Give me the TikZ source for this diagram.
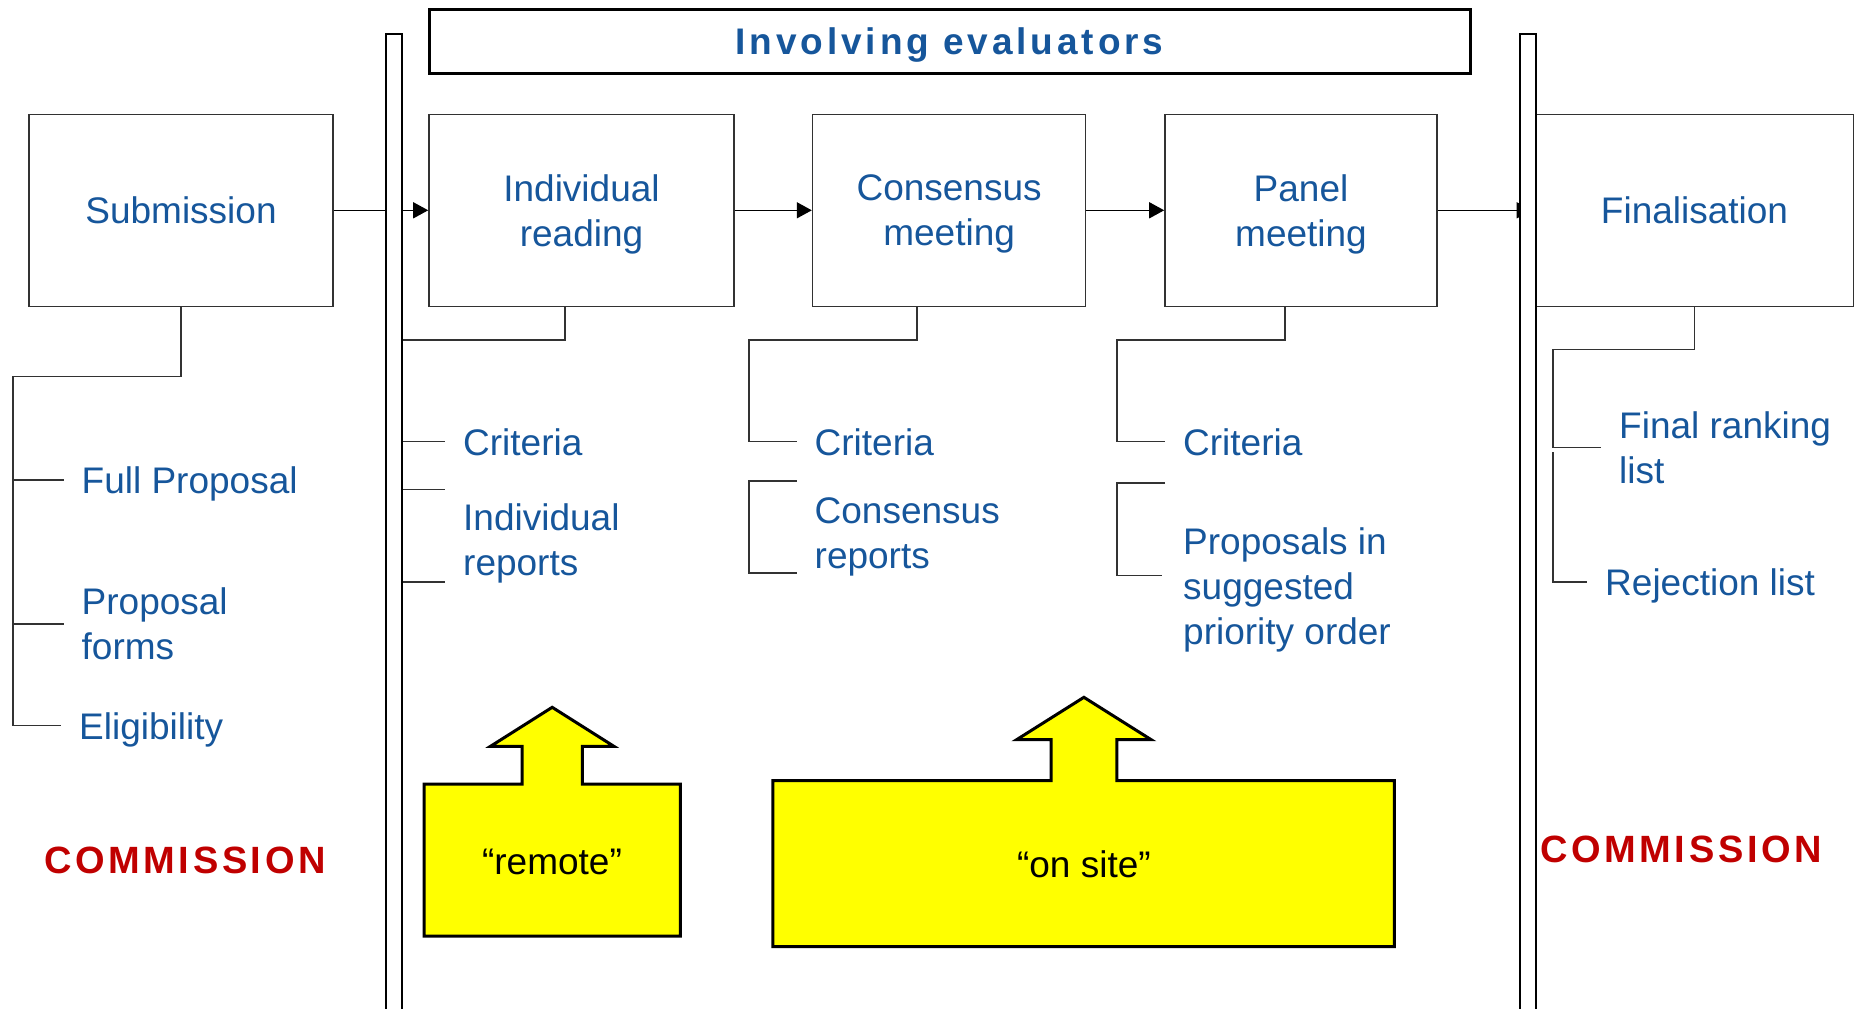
\documentclass[tikz,border=0pt]{standalone}
\usepackage{fontspec}
\setmainfont{Liberation Sans}
\usepackage{xcolor}
\usetikzlibrary{arrows.meta,positioning}
\definecolor{evalblue}{RGB}{22,86,155}
\definecolor{commred}{RGB}{192,0,0}
\definecolor{edgegray}{RGB}{50,50,50}
\definecolor{notegold}{RGB}{255,255,0}

\begin{document}
\begin{tikzpicture}[x=1pt, y=-1pt,
  stage node/.style={rectangle, draw=edgegray, line width=1.6pt, align=center, text=evalblue, font=\fontsize{37}{45}\selectfont, minimum height=192pt, text depth=0pt},
  item node/.style={anchor=west, align=left, text=evalblue, font=\fontsize{37}{45}\selectfont, inner xsep=18pt, inner ysep=0pt, text depth=0pt},
  comm node/.style={text=commred, font=\fontsize{38}{45}\selectfont\bfseries\addfontfeature{LetterSpace=9.5}},
  link/.style={draw=edgegray, line width=1.5pt},
  flow/.style={draw=black, line width=1.5pt, -{Triangle[length=15pt,width=16pt]}},
  rail/.style={draw=black, line width=2pt, fill=white},
  note shape/.style={draw=black, line width=3pt, fill=notegold, line join=miter},
  note node/.style={text=black, font=\fontsize{37}{45}\selectfont}]
\useasboundingbox (0,0) rectangle (1861,1009);

% title
\node[draw=black, line width=3pt, minimum width=1041pt, minimum height=64.7pt, text depth=0pt, text=evalblue, font=\fontsize{37}{45}\selectfont\bfseries\addfontfeature{LetterSpace=10.5}] (title) at (949.5,41.4) {Involving evaluators};

% stages
\node[stage node, minimum width=304pt] (sub) at (181,210.3) {Submission};
\node[stage node, minimum width=305pt] (ir) at (581.5,210.3) {Individual\\reading};
\node[stage node, minimum width=273pt] (cm) at (949.1,210.3) {Consensus\\meeting};
\node[stage node, minimum width=272pt] (pm) at (1301,210.3) {Panel\\meeting};
\node[stage node, minimum width=318pt] (fin) at (1694.5,210.3) {Finalisation};

% items
\node[item node] (fullprop) at (63.5,480) {Full Proposal};
\node[item node] (propforms) at (63.5,624) {Proposal\\forms};
\node[item node] (elig) at (61,725.7) {Eligibility};
\node[item node] (ircrit) at (445,441.7) {Criteria};
\node[item node] (irrep) at (445,540) {Individual\\reports};
\node[item node] (cmcrit) at (796.5,441.7) {Criteria};
\node[item node] (cmrep) at (796.5,533) {Consensus\\reports};
\node[item node] (pmcrit) at (1165,441.7) {Criteria};
\node[item node] (pmprop) at (1165,585.7) {Proposals in\\suggested\\priority order};
\node[item node] (finrank) at (1601,447.3) {Final ranking\\list};
\node[item node] (finrej) at (1587,582) {Rejection list};

\coordinate (subcorner) at (13,376.7);
\coordinate (irtop) at (401.5,340);
\coordinate (irrepa) at (445,489.7);
\coordinate (irrepb) at (445,582);
\coordinate (cmcorner) at (749,340);
\coordinate (cmrepa) at (796.5,481);
\coordinate (cmrepb) at (796.5,573);
\coordinate (pmcorner) at (1117,340);
\coordinate (pmpropa) at (1165,483);
\coordinate (pmpropb) at (1162,575.3);
\coordinate (fincorner) at (1553,349.7);
\coordinate (finlow) at (1553,452);

% tree lines
\draw[link] (sub.south) |- (subcorner) |- (fullprop.west);
\draw[link] (fullprop.west -| subcorner) |- (elig.west);
\draw[link] (propforms.west -| subcorner) -- (propforms.west);
\draw[link] ([xshift=-16.5pt]ir.south) |- (irtop);
\draw[link] (ircrit.west -| irtop) -- (ircrit.west);
\draw[link] (irrepa -| irtop) -- (irrepa);
\draw[link] (irrepb -| irtop) -- (irrepb);
\draw[link] ([xshift=-32pt]cm.south) |- (cmcorner) |- (cmcrit.west);
\draw[link] (cmrepa) -- (cmrepa -| cmcorner) -- (cmrepb -| cmcorner) -- (cmrepb);
\draw[link] ([xshift=-16pt]pm.south) |- (pmcorner) |- (pmcrit.west);
\draw[link] (pmpropa) -- (pmpropa -| pmcorner) -- (pmpropb -| pmcorner) -- (pmpropb);
\draw[link] (fin.south) |- (fincorner) |- (finrank.west);
\draw[link] (finlow) |- (finrej.west);

% flow
\path[flow] (sub) edge (ir)
  (ir) edge (cm)
  (cm) edge (pm)
  (pm) edge[shorten >=3pt] (fin);

% rails
\draw[rail] (385.5,1012) |- (401.5,34.3) -- (401.5,1012);
\draw[rail] (1519.7,1012) |- (1535.7,34.3) -- (1535.7,1012);

% yellow arrows
\draw[note shape] (424,936) -- (424,784) -- (522,784) -- (522,746.3) -- (490.5,746.3) -- (552.2,707.3) -- (613.9,746.3) -- (582.4,746.3) -- (582.4,784) -- (680.3,784) -- (680.3,936) -- cycle;
\node[note node] (remote) at (552,862.3) {“remote”};
\draw[note shape] (772.8,946.7) -- (772.8,780.7) -- (1051,780.7) -- (1051,739.7) -- (1016.6,739.7) -- (1083.9,697.3) -- (1151.2,739.7) -- (1116.8,739.7) -- (1116.8,780.7) -- (1394.4,780.7) -- (1394.4,946.7) -- cycle;
\node[note node] (onsite) at (1083.9,864) {“on site”};

% commission
\node[comm node] (commleft) at (185,860.5) {COMMISSION};
\node[comm node] (commright) at (1681,849) {COMMISSION};
\end{tikzpicture}
\end{document}
